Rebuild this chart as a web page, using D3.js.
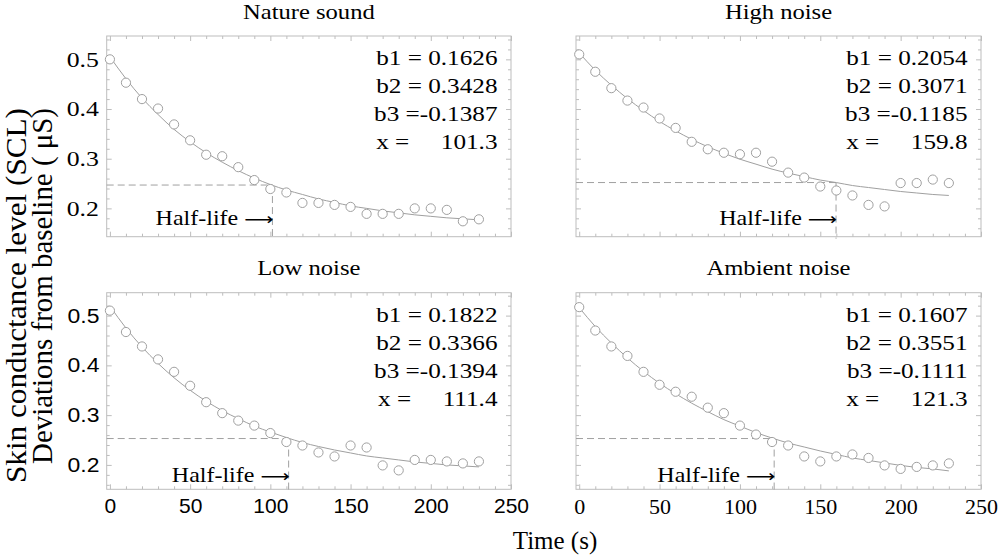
<!DOCTYPE html>
<html>
<head>
<meta charset="utf-8">
<script src="https://cdn.jsdelivr.net/npm/d3@7"></script>
<style>
  body { margin: 0; background: #fff; }
</style>
</head>
<body>
<div id="chart"></div>
<script>
const width = 1000;
const height = 558;

// data
const panelTitles = ["Nature sound", "High noise", "Low noise", "Ambient noise"];
const times = [0, 10, 20, 30, 40, 50, 60, 70, 80, 90, 100, 110, 120, 130, 140, 150, 160, 170, 180, 190, 200, 210, 220, 230];

const natureSCL = [0.500, 0.453, 0.420, 0.401, 0.369, 0.337, 0.308, 0.305, 0.283, 0.257, 0.239, 0.232, 0.211, 0.211, 0.207, 0.203, 0.189, 0.189, 0.189, 0.200, 0.200, 0.197, 0.174, 0.178];
const highSCL = [0.510, 0.475, 0.442, 0.417, 0.403, 0.381, 0.362, 0.334, 0.319, 0.312, 0.309, 0.312, 0.294, 0.272, 0.262, 0.244, 0.236, 0.226, 0.207, 0.204, 0.251, 0.251, 0.258, 0.251];
const lowSCL = [0.510, 0.467, 0.438, 0.412, 0.387, 0.359, 0.326, 0.304, 0.289, 0.279, 0.264, 0.246, 0.239, 0.225, 0.217, 0.239, 0.235, 0.199, 0.189, 0.210, 0.210, 0.207, 0.203, 0.207];
const ambientSCL = [0.517, 0.470, 0.438, 0.419, 0.387, 0.361, 0.347, 0.337, 0.315, 0.304, 0.279, 0.261, 0.246, 0.239, 0.217, 0.207, 0.217, 0.221, 0.214, 0.199, 0.192, 0.196, 0.199, 0.203];

// fitted curves (grey line), sampled every 10 s
const natureFit = [0.505, 0.461, 0.422, 0.389, 0.359, 0.334, 0.312, 0.293, 0.276, 0.261, 0.248, 0.237, 0.228, 0.219, 0.212, 0.205, 0.200, 0.195, 0.191, 0.187, 0.184, 0.181, 0.179, 0.177];
const highFit = [0.513, 0.478, 0.448, 0.421, 0.397, 0.375, 0.356, 0.339, 0.324, 0.311, 0.299, 0.289, 0.279, 0.271, 0.264, 0.257, 0.252, 0.246, 0.242, 0.238, 0.234, 0.231, 0.228, 0.226];
const lowFit = [0.519, 0.475, 0.437, 0.404, 0.375, 0.350, 0.328, 0.309, 0.293, 0.278, 0.266, 0.255, 0.245, 0.237, 0.230, 0.224, 0.218, 0.214, 0.210, 0.206, 0.203, 0.200, 0.198, 0.196];
const ambientFit = [0.516, 0.478, 0.445, 0.415, 0.388, 0.364, 0.343, 0.324, 0.307, 0.291, 0.278, 0.265, 0.254, 0.244, 0.236, 0.228, 0.221, 0.214, 0.209, 0.204, 0.199, 0.195, 0.192, 0.188];

const fitLabels = [
  ["b1 = 0.1626", "b2 = 0.3428", "b3 =-0.1387", "x =     101.3"],
  ["b1 = 0.2054", "b2 = 0.3071", "b3 =-0.1185", "x =     159.8"],
  ["b1 = 0.1822", "b2 = 0.3366", "b3 =-0.1394", "x =     111.4"],
  ["b1 = 0.1607", "b2 = 0.3551", "b3 =-0.1111", "x =     121.3"]
];
const halfLife = [101.3, 159.8, 111.4, 121.3];
const halfLifeLevel = [0.247, 0.252, 0.253, 0.253];

const xTicks = [0, 50, 100, 150, 200, 250];
const yTicks = [0.2, 0.3, 0.4, 0.5];

const series = [natureSCL, highSCL, lowSCL, ambientSCL];
const fits = [natureFit, highFit, lowFit, ambientFit];

// panel boxes
const layout = [
  { left: 106.7, right: 511, top: 36, bottom: 236.7, ymin: 0.143, ymax: 0.547, yLab: "serif", xLab: null },
  { left: 576, right: 981, top: 36, bottom: 236.7, ymin: 0.143, ymax: 0.547, yLab: null, xLab: null },
  { left: 106.7, right: 511, top: 292.7, bottom: 489.3, ymin: 0.151, ymax: 0.546, yLab: "sans", xLab: "sans" },
  { left: 576, right: 981, top: 292.7, bottom: 489.3, ymin: 0.151, ymax: 0.546, yLab: null, xLab: "serif" }
];

const stretch = 1.2; // panel text is wider than normal in the original
const grey = "#a0a0a0";
const frameGrey = "#bdbdbd";
const serif = "'Liberation Serif', 'Times New Roman', serif";
const sans = "'Liberation Sans', Arial, sans-serif";
const fontFor = f => f === "sans" ? sans : serif;

const svg = d3.select("#chart").append("svg")
  .attr("width", width)
  .attr("height", height)
  .attr("font-family", serif);

const minorX = d3.range(0, 26).map(i => i * 10).filter(v => v % 50 !== 0);
const minorY = d3.range(7, 28).filter(i => i % 5 !== 0).map(i => i / 50);

function stretchedText(g, x, y, str, anchor, size) {
  return g.append("text")
    .attr("transform", `translate(${x},${y}) scale(${stretch},1)`)
    .attr("text-anchor", anchor)
    .attr("font-size", size)
    .attr("fill", "#000")
    .style("white-space", "pre")
    .text(str);
}

layout.forEach((p, i) => {
  const g = svg.append("g");
  const x = d3.scaleLinear().domain([-2, 250]).range([p.left, p.right]);
  const y = d3.scaleLinear().domain([p.ymin, p.ymax]).range([p.bottom, p.top]);
  const yMinor = minorY.filter(v => v > p.ymin && v < p.ymax);

  // frame ticks, all pointing inward
  const tickSets = [
    [d3.axisBottom(x).tickValues(minorX).tickSize(-3), `translate(0,${p.bottom})`],
    [d3.axisBottom(x).tickValues(xTicks).tickSize(-5), `translate(0,${p.bottom})`],
    [d3.axisTop(x).tickValues(minorX).tickSize(-3), `translate(0,${p.top})`],
    [d3.axisTop(x).tickValues(xTicks).tickSize(-5), `translate(0,${p.top})`],
    [d3.axisLeft(y).tickValues(yMinor).tickSize(-3), `translate(${p.left},0)`],
    [d3.axisLeft(y).tickValues(yTicks).tickSize(-5), `translate(${p.left},0)`],
    [d3.axisRight(y).tickValues(yMinor).tickSize(-3), `translate(${p.right},0)`],
    [d3.axisRight(y).tickValues(yTicks).tickSize(-5), `translate(${p.right},0)`]
  ];
  tickSets.forEach(([axis, tr]) => {
    g.append("g")
      .attr("transform", tr)
      .attr("color", frameGrey)
      .call(axis.tickFormat(""))
      .call(a => a.select(".domain").remove());
  });

  // tick labels
  if (p.xLab) {
    g.append("g")
      .attr("transform", `translate(0,${p.bottom})`)
      .call(d3.axisBottom(x).tickValues(xTicks).tickSize(0).tickPadding(9).tickFormat(d3.format("d")))
      .call(a => a.select(".domain").remove())
      .attr("font-family", fontFor(p.xLab))
      .attr("font-size", p.xLab === "sans" ? 21 : 22)
      .selectAll("text").attr("fill", "#000");
  }
  if (p.yLab) {
    g.append("g")
      .attr("transform", `translate(${p.left},0)`)
      .call(d3.axisLeft(y).tickValues(yTicks).tickSize(0).tickPadding(6.5).tickFormat(d3.format(".1f")))
      .call(a => a.select(".domain").remove())
      .attr("font-family", fontFor(p.yLab))
      .attr("font-size", p.yLab === "sans" ? 20.5 : 21.5)
      .selectAll("text")
      .attr("fill", "#000")
      .attr("transform", `scale(${p.yLab === "sans" ? 1.12 : stretch},1)`);
  }

  g.append("rect")
    .attr("x", p.left)
    .attr("y", p.top)
    .attr("width", p.right - p.left)
    .attr("height", p.bottom - p.top)
    .attr("fill", "none")
    .attr("stroke", frameGrey)
    .attr("stroke-width", 1);

  // half-life guides
  g.append("line")
    .attr("x1", p.left).attr("x2", x(halfLife[i]))
    .attr("y1", y(halfLifeLevel[i])).attr("y2", y(halfLifeLevel[i]))
    .attr("stroke", grey).attr("stroke-dasharray", "7,4");
  g.append("line")
    .attr("x1", x(halfLife[i])).attr("x2", x(halfLife[i]))
    .attr("y1", y(halfLifeLevel[i])).attr("y2", p.bottom + 2)
    .attr("stroke", grey).attr("stroke-dasharray", "7,4");

  // fitted curve
  const line = d3.line()
    .x((d, j) => x(times[j]))
    .y(d => y(d))
    .curve(d3.curveMonotoneX);
  g.append("path")
    .datum(fits[i])
    .attr("d", line)
    .attr("fill", "none")
    .attr("stroke", grey)
    .attr("stroke-width", 1);

  // observations
  g.selectAll("circle")
    .data(series[i])
    .enter()
    .append("circle")
    .attr("cx", (d, j) => x(times[j]))
    .attr("cy", d => y(d))
    .attr("r", 4.6)
    .attr("fill", "#fff")
    .attr("stroke", grey)
    .attr("stroke-width", 1);

  // text
  stretchedText(g, (p.left + p.right) / 2, p.top - 17.5, panelTitles[i], "middle", 20.5);
  fitLabels[i].forEach((s, k) => {
    stretchedText(g, p.right - 13.5, p.top + 29 + k * 28, s, "end", 21);
  });
  const hl = stretchedText(g, x(halfLife[i]) + 1, y(0.166), "Half-life ", "end", 20);
  hl.append("tspan")
    .attr("font-family", "'DejaVu Sans', sans-serif")
    .attr("font-size", 17)
    .text("\u27f6");
});

// axis titles
svg.append("text")
  .attr("x", 555)
  .attr("y", 549)
  .attr("text-anchor", "middle")
  .attr("font-size", 25)
  .attr("fill", "#000")
  .text("Time (s)");

const yTitle = ["Skin conductance level (SCL)", "Deviations from baseline ( \u03bcS)"];
const yTitleLength = [375, 356];
yTitle.forEach((s, k) => {
  svg.append("text")
    .attr("transform", `translate(${26 + k * 26},108) rotate(-90)`)
    .attr("text-anchor", "end")
    .attr("font-size", 29)
    .attr("textLength", yTitleLength[k])
    .attr("lengthAdjust", "spacingAndGlyphs")
    .attr("fill", "#000")
    .text(s);
});
</script>
</body>
</html>
